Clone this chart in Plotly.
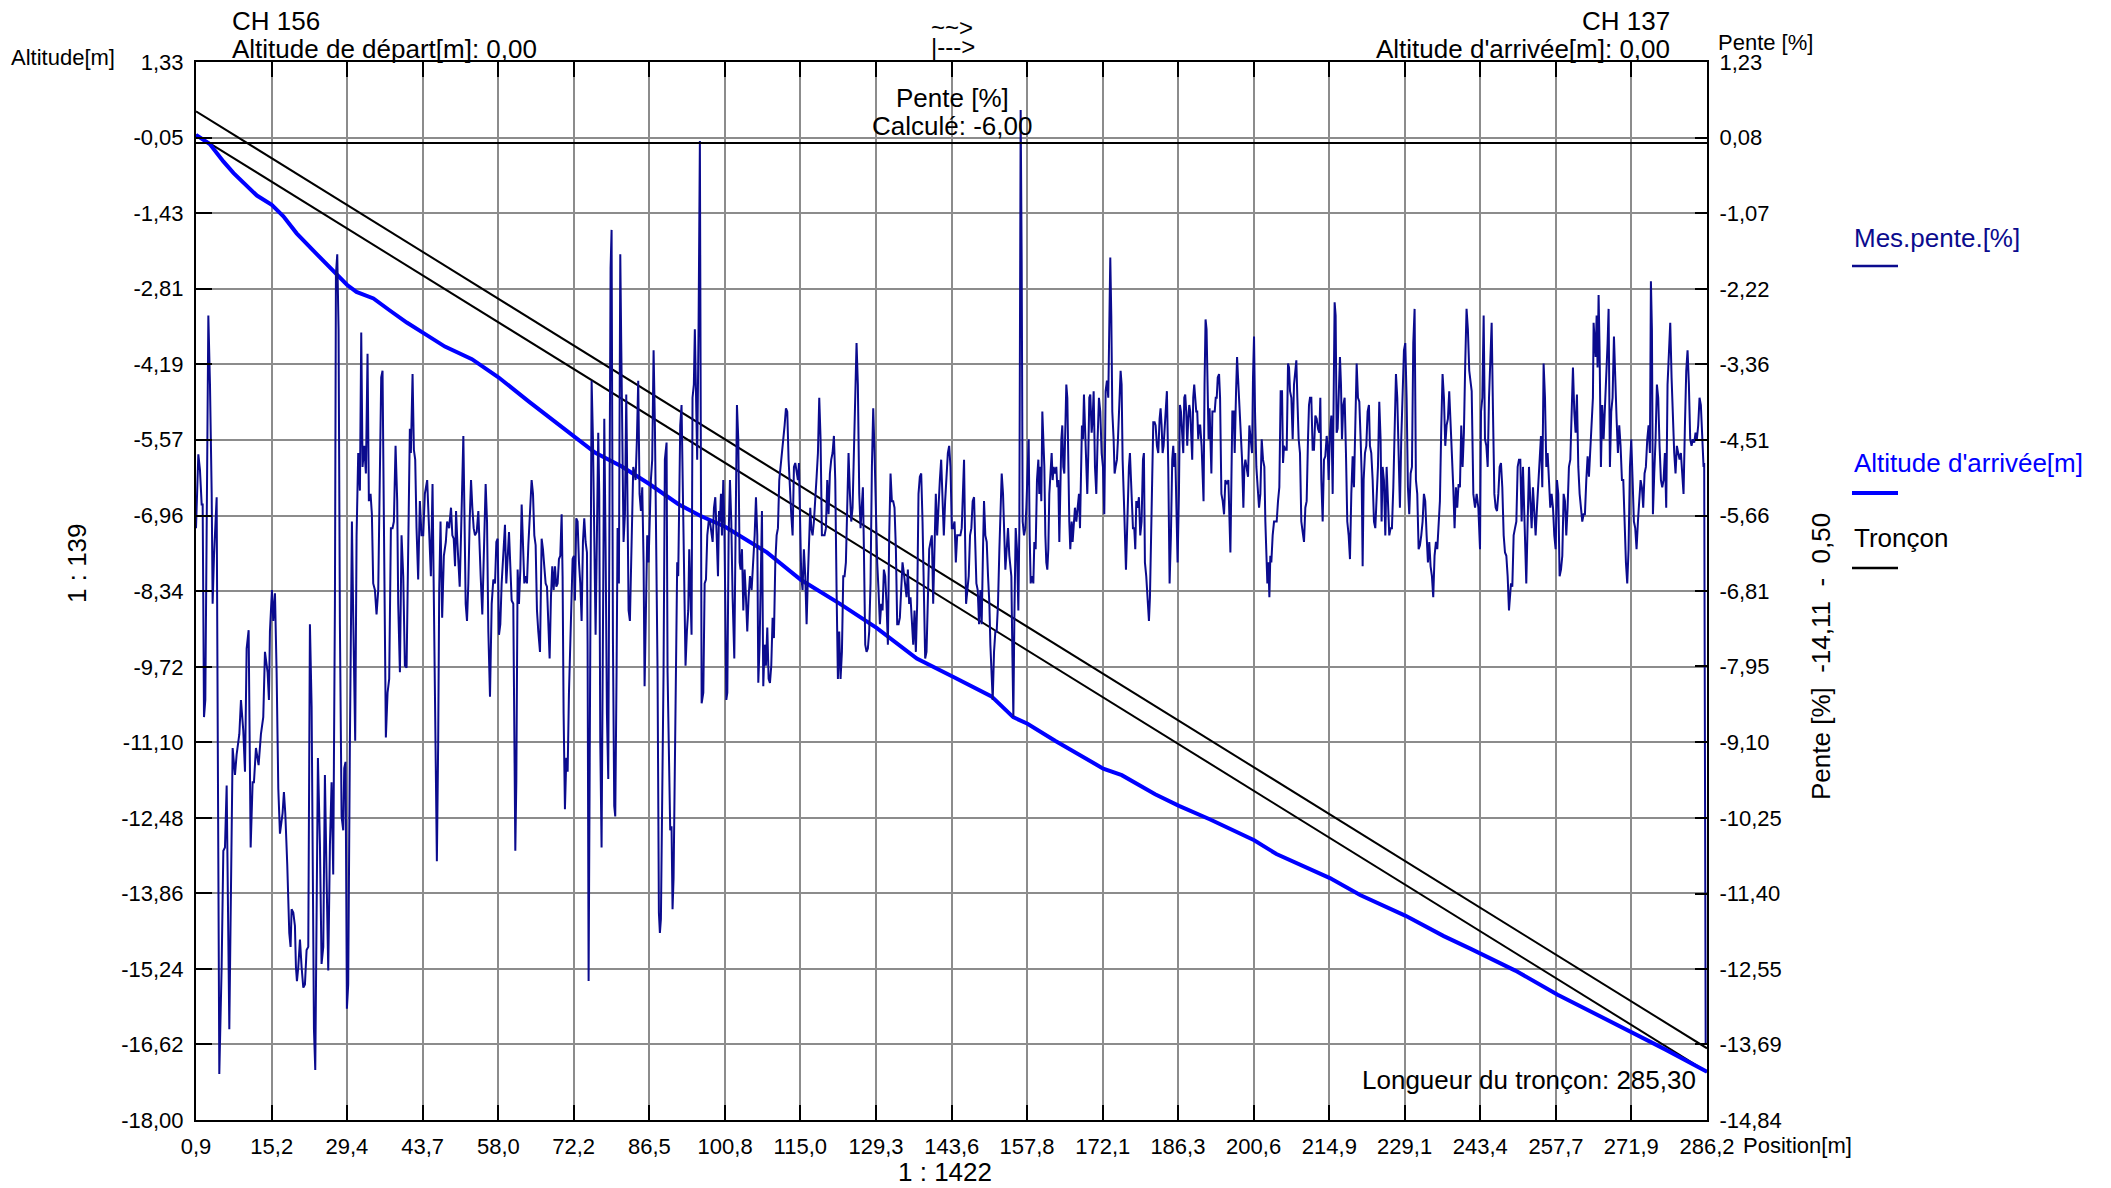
import plotly.graph_objects as go

# ---------------- axis ticks ----------------
x_tick_vals = [0.9, 15.2, 29.4, 43.7, 58.0, 72.2, 86.5, 100.8, 115.0, 129.3, 143.6,
               157.8, 172.1, 186.3, 200.6, 214.9, 229.1, 243.4, 257.7, 271.9, 286.2]
x_tick_text = ["0,9", "15,2", "29,4", "43,7", "58,0", "72,2", "86,5", "100,8", "115,0", "129,3", "143,6",
               "157,8", "172,1", "186,3", "200,6", "214,9", "229,1", "243,4", "257,7", "271,9", "286,2"]

alt_tick_vals = [1.33, -0.05, -1.43, -2.81, -4.19, -5.57, -6.96, -8.34, -9.72, -11.10,
                 -12.48, -13.86, -15.24, -16.62, -18.00]
alt_tick_text = ["1,33", "-0,05", "-1,43", "-2,81", "-4,19", "-5,57", "-6,96", "-8,34", "-9,72", "-11,10",
                 "-12,48", "-13,86", "-15,24", "-16,62", "-18,00"]

pente_tick_vals = [1.23, 0.08, -1.07, -2.22, -3.36, -4.51, -5.66, -6.81, -7.95, -9.10,
                   -10.25, -11.40, -12.55, -13.69, -14.84]
pente_tick_text = ["1,23", "0,08", "-1,07", "-2,22", "-3,36", "-4,51", "-5,66", "-6,81", "-7,95", "-9,10",
                   "-10,25", "-11,40", "-12,55", "-13,69", "-14,84"]

# ---------------- tronçon (two parallel lines) ----------------
troncon_pos = [0.9, 286.2]
troncon_lower = [0.0, -17.12]
troncon_upper = [0.43, -16.69]
zero_slope = 0.0

# ---------------- Altitude d'arrivée[m] ----------------
alt_pos = [0.9, 3.5, 6.1, 8.0, 12.4, 15.2, 17.4, 19.9, 23.7, 27.5, 29.4, 31.2, 34.4, 37.5, 40.7, 43.8,
           47.9, 53.0, 58.0, 63.7, 72.3, 76.3, 81.3, 86.5, 92.0, 96.1, 100.8, 108.7, 115.1, 122.5, 129.4,
           137.0, 144.2, 151.1, 155.2, 157.9, 163.1, 172.2, 175.7, 182.0, 186.5, 192.4, 200.7, 204.9,
           215.0, 220.7, 229.3, 236.5, 241.5, 250.0, 258.0, 265.7, 272.1, 278.3, 286.2]
alt_val = [0.0, -0.17, -0.49, -0.70, -1.11, -1.28, -1.49, -1.80, -2.18, -2.55, -2.74, -2.87, -2.99, -3.21,
           -3.43, -3.62, -3.87, -4.10, -4.43, -4.87, -5.50, -5.81, -6.06, -6.38, -6.75, -6.96, -7.16, -7.63,
           -8.13, -8.57, -9.01, -9.57, -9.92, -10.26, -10.64, -10.76, -11.07, -11.58, -11.70, -12.05,
           -12.26, -12.51, -12.89, -13.14, -13.58, -13.89, -14.27, -14.64, -14.87, -15.27, -15.71,
           -16.09, -16.40, -16.71, -17.12]

# ---------------- Mes.pente.[%] (position m, pente %) ----------------
pente_pts = [
    (0.90, -5.85), (1.34, -4.73), (1.65, -4.97), (1.97, -5.49), (2.16, -5.49), (2.41, -8.72), (2.66, -8.46),
    (2.91, -5.33), (3.23, -2.62), (3.54, -3.67), (3.86, -5.33), (4.04, -7.00), (4.30, -6.27), (4.80, -5.38),
    (5.30, -14.14), (5.74, -12.52), (6.06, -10.75), (6.37, -10.70), (6.69, -9.76), (7.19, -13.46),
    (7.82, -9.19), (8.26, -9.60), (8.57, -9.29), (9.08, -8.98), (9.39, -8.46), (9.83, -8.93), (10.15, -9.55),
    (10.46, -7.68), (10.84, -7.40), (11.22, -10.70), (11.59, -9.71), (11.84, -9.71), (12.22, -9.19),
    (12.72, -9.45), (13.16, -8.98), (13.60, -8.72), (13.92, -7.73), (14.42, -8.04), (14.67, -8.46),
    (14.86, -7.42), (15.24, -6.79), (15.49, -7.26), (15.81, -6.84), (16.12, -8.04), (16.44, -9.81),
    (16.75, -10.49), (17.25, -10.18), (17.50, -9.86), (17.76, -10.18), (18.13, -10.96), (18.51, -12.00),
    (18.76, -12.21), (18.95, -11.64), (19.27, -11.69), (19.58, -11.89), (19.77, -12.52), (19.96, -12.73),
    (20.21, -12.52), (20.53, -12.10), (20.84, -12.52), (21.16, -12.83), (21.47, -12.78), (21.78, -12.26),
    (22.10, -12.21), (22.41, -7.31), (22.73, -8.56), (23.17, -13.46), (23.42, -14.08), (23.67, -12.21),
    (23.92, -9.34), (24.30, -10.65), (24.61, -12.47), (24.93, -12.21), (25.24, -9.60), (25.56, -11.17),
    (25.87, -12.57), (26.19, -10.65), (26.50, -9.71), (26.81, -11.11), (27.13, -7.00), (27.32, -2.00),
    (27.57, -1.69), (27.82, -2.83), (28.07, -7.31), (28.39, -10.23), (28.70, -10.44), (28.89, -9.50),
    (29.14, -9.40), (29.39, -13.15), (29.64, -12.78), (29.96, -9.08), (30.34, -5.75), (30.59, -7.21),
    (30.96, -9.08), (31.22, -5.96), (31.53, -4.71), (31.85, -5.28), (32.10, -2.88), (32.35, -4.92),
    (32.66, -4.60), (32.98, -5.02), (33.29, -3.20), (33.54, -5.44), (33.86, -5.33), (34.11, -5.64),
    (34.36, -6.69), (34.68, -6.79), (34.99, -7.16), (35.31, -6.79), (35.62, -4.45), (35.87, -3.56),
    (36.12, -3.46), (36.44, -6.17), (36.75, -9.03), (37.07, -8.35), (37.38, -8.14), (37.70, -5.85),
    (38.01, -5.85), (38.26, -5.75), (38.58, -4.60), (38.89, -5.44), (39.08, -7.00), (39.40, -8.04),
    (39.71, -5.96), (40.03, -6.58), (40.34, -7.94), (40.66, -7.97), (40.97, -5.64), (41.28, -4.34),
    (41.47, -4.71), (41.79, -3.51), (42.04, -4.66), (42.29, -4.81), (42.54, -5.85), (42.85, -6.63),
    (43.17, -5.44), (43.48, -5.96), (43.80, -5.96), (44.11, -5.33), (44.55, -5.12), (44.93, -5.96),
    (45.25, -6.58), (45.56, -5.18), (45.88, -7.62), (46.19, -9.08), (46.38, -10.91), (46.63, -9.08),
    (46.82, -6.79), (47.07, -5.75), (47.38, -7.21), (47.70, -6.27), (48.07, -6.06), (48.32, -5.75),
    (48.70, -5.85),
    (48.80, -5.75), (49.05, -5.54), (49.30, -5.96), (49.56, -6.01), (49.81, -6.43), (50.00, -5.59),
    (50.25, -6.06), (50.50, -6.48), (50.69, -6.74), (50.94, -5.96), (51.19, -5.12), (51.38, -4.45),
    (51.57, -5.54), (51.82, -7.00), (52.07, -7.26), (52.32, -6.69), (52.57, -5.75), (52.83, -5.12),
    (53.08, -5.54), (53.33, -5.85), (53.58, -5.96), (53.90, -5.91), (54.21, -5.59), (54.40, -6.17),
    (54.65, -6.58), (54.96, -7.16), (55.34, -6.17), (55.59, -5.18), (55.85, -5.75), (56.10, -7.42),
    (56.41, -8.41), (56.73, -7.00), (57.04, -6.63), (57.36, -6.69), (57.61, -6.06), (57.86, -6.01),
    (58.11, -7.47), (58.36, -7.31), (58.61, -6.69), (58.93, -6.17), (59.24, -5.80), (59.49, -6.69),
    (59.75, -6.17), (60.00, -5.91), (60.25, -6.43), (60.50, -6.95), (60.81, -7.00), (61.00, -8.46),
    (61.19, -10.75), (61.38, -9.71), (61.63, -6.48), (61.88, -7.00), (62.14, -6.48), (62.39, -5.49),
    (62.64, -5.96), (62.89, -6.69), (63.14, -6.58), (63.39, -6.69), (63.65, -6.11), (63.96, -5.54),
    (64.27, -5.12), (64.53, -5.33), (64.78, -5.96), (65.03, -6.11), (65.28, -7.10), (65.53, -7.42),
    (65.85, -7.73), (66.16, -6.01), (66.41, -6.17), (66.66, -6.43), (66.92, -6.69), (67.17, -6.74),
    (67.42, -7.31), (67.67, -7.83), (67.92, -6.90), (68.17, -6.43), (68.43, -6.79), (68.68, -6.43),
    (68.93, -6.74), (69.18, -6.69), (69.43, -6.32), (69.68, -6.27), (69.94, -5.64), (70.12, -6.58),
    (70.31, -8.67), (70.56, -10.12), (70.82, -9.34), (71.07, -9.55), (71.32, -8.35), (71.57, -7.52),
    (71.82, -6.90), (72.01, -6.32), (72.26, -6.27), (72.45, -6.95), (72.70, -5.70), (72.95, -5.75),
    (73.21, -6.37), (73.46, -6.69), (73.71, -7.26), (73.96, -6.06), (74.21, -5.70), (74.46, -6.06),
    (74.72, -6.22), (74.84, -7.62), (75.03, -12.73), (75.22, -10.12), (75.41, -5.54), (75.60, -3.61),
    (75.85, -4.50), (76.10, -5.96), (76.35, -7.47), (76.60, -5.96), (76.85, -4.40), (77.04, -5.33),
    (77.23, -9.08), (77.48, -10.70), (77.73, -7.00), (77.99, -4.19), (78.24, -6.17), (78.49, -8.67),
    (78.74, -9.66), (78.99, -4.92), (79.18, -1.90), (79.37, -1.32), (79.62, -7.52), (79.87, -10.07),
    (80.06, -10.23), (80.31, -8.04), (80.50, -5.85), (80.75, -6.69), (81.01, -1.69), (81.19, -3.04),
    (81.38, -4.50), (81.63, -6.06), (81.89, -5.64), (82.14, -3.82), (82.33, -5.12), (82.58, -7.10),
    (82.83, -7.26), (83.14, -6.17), (83.46, -4.92), (83.71, -5.02), (83.90, -5.12), (84.15, -4.50),
    (84.40, -3.61), (84.65, -5.33), (84.91, -5.59), (85.16, -5.23), (85.41, -6.37), (85.60, -8.25),
    (85.85, -6.79), (86.10, -5.96), (86.35, -6.37), (86.54, -5.75), (86.79, -5.12), (87.04, -4.81),
    (87.30, -3.15), (87.55, -4.29), (87.80, -5.96), (88.05, -8.04), (88.30, -11.69), (88.49, -12.00),
    (88.68, -11.79), (88.93, -10.12), (89.18, -8.04), (89.43, -4.81), (89.75, -4.55), (89.94, -8.04),
    (90.19, -9.19), (90.44, -10.44), (90.69, -10.38), (90.88, -11.64), (91.07, -11.17), (91.32, -9.08),
    (91.51, -7.42), (91.76, -6.37), (91.95, -6.58), (92.14, -5.44), (92.33, -4.29), (92.58, -3.98),
    (92.83, -5.33), (93.08, -6.90), (93.33, -7.94), (93.59, -7.42), (93.84, -7.10), (94.03, -6.17),
    (94.21, -6.58), (94.47, -7.47), (94.65, -3.87), (94.90, -3.67), (95.09, -2.83), (95.28, -3.67),
    (95.53, -4.81), (95.79, -2.83), (96.04, 0.03),
    (96.37, -8.51), (96.69, -8.35), (96.94, -6.69), (97.19, -6.63), (97.44, -5.96), (97.70, -5.75),
    (97.95, -5.75), (98.20, -5.96), (98.45, -6.06), (98.70, -5.54), (98.95, -5.38), (99.21, -5.96),
    (99.46, -6.58), (99.65, -5.59), (99.83, -5.75), (100.02, -5.33), (100.21, -5.96), (100.46, -5.12),
    (100.65, -5.75), (100.84, -7.00), (101.03, -8.46), (101.22, -8.35), (101.47, -5.96), (101.72, -5.12),
    (101.97, -5.75), (102.22, -6.90), (102.54, -7.83), (102.79, -5.85), (103.04, -3.98), (103.29, -4.50),
    (103.55, -6.37), (103.73, -6.48), (103.99, -6.17), (104.24, -7.10), (104.49, -6.48), (104.74, -6.90),
    (104.99, -7.42), (105.24, -6.90), (105.50, -6.58), (105.81, -6.79), (106.12, -6.37), (106.38, -5.96),
    (106.63, -5.38), (106.88, -5.96), (107.07, -8.20), (107.32, -7.62), (107.57, -6.48), (107.76, -5.59),
    (108.01, -8.25), (108.26, -7.62), (108.51, -7.94), (108.77, -7.36), (109.02, -8.14), (109.27, -8.20),
    (109.52, -7.94), (109.77, -7.21), (110.02, -7.52), (110.28, -6.37), (110.53, -5.96), (110.78, -5.85),
    (111.03, -5.12), (111.28, -4.92), (111.53, -4.81), (111.79, -4.60), (112.04, -4.29), (112.29, -4.03),
    (112.54, -4.08), (112.79, -4.81), (113.04, -5.33), (113.29, -5.64), (113.55, -5.96), (113.80, -4.92),
    (114.05, -4.86), (114.30, -5.02), (114.55, -5.12), (114.74, -4.86), (114.93, -5.75), (115.18, -6.58),
    (115.43, -6.79), (115.68, -6.17), (115.94, -6.58), (116.19, -7.31), (116.44, -6.58), (116.69, -5.85),
    (116.88, -5.54), (117.07, -5.85), (117.32, -5.96), (117.57, -5.75), (117.82, -5.33), (118.08, -5.07),
    (118.33, -4.71), (118.58, -3.87), (118.83, -4.50), (119.08, -5.96), (119.33, -5.96), (119.58, -5.96),
    (119.84, -5.85), (120.09, -5.12), (120.34, -5.64), (120.59, -5.02), (120.84, -4.81), (121.09, -4.71),
    (121.35, -4.45), (121.60, -5.12), (121.85, -6.79), (122.10, -8.14), (122.35, -7.42), (122.60, -8.14),
    (122.86, -7.73), (123.11, -6.58), (123.36, -6.58), (123.61, -6.37), (123.86, -5.54), (124.11, -4.71),
    (124.37, -5.33), (124.62, -5.75), (124.87, -5.54), (125.12, -4.66), (125.37, -3.67), (125.62, -3.04),
    (125.87, -3.67), (126.13, -5.33), (126.38, -5.85), (126.63, -5.54), (126.82, -5.23), (127.01, -6.17),
    (127.26, -7.62), (127.51, -7.73), (127.76, -7.68), (128.01, -7.42), (128.26, -6.69), (128.52, -4.92),
    (128.77, -4.03), (129.02, -4.71), (129.27, -5.75), (129.52, -6.37), (129.77, -6.79), (130.03, -7.31),
    (130.28, -7.00), (130.53, -7.10), (130.78, -6.48), (131.03, -6.58), (131.28, -7.00), (131.54, -7.62),
    (131.79, -5.96), (132.04, -5.02), (132.29, -5.44), (132.54, -5.44), (132.79, -5.54), (133.05, -6.17),
    (133.30, -7.31), (133.55, -7.31), (133.80, -7.21), (134.05, -6.79), (134.30, -6.37), (134.55, -6.53),
    (134.81, -6.79), (135.06, -6.90), (135.31, -6.48), (135.56, -7.00), (135.81, -6.90), (136.06, -7.31),
    (136.32, -7.62), (136.57, -7.10), (136.82, -7.73), (137.07, -7.00), (137.32, -5.33), (137.57, -5.07),
    (137.83, -5.02), (138.08, -5.75), (138.33, -6.79), (138.58, -7.83), (138.83, -7.73), (139.08, -7.00),
    (139.34, -6.17), (139.59, -6.06), (139.84, -5.96), (140.09, -7.00), (140.34, -6.17), (140.59, -5.33),
    (140.84, -5.96), (141.10, -5.44), (141.35, -5.12), (141.60, -4.81), (141.85, -5.33), (142.10, -5.96),
    (142.35, -5.44), (142.61, -5.12), (142.86, -4.71), (143.11, -4.60), (143.36, -4.92), (143.61, -5.85),
    (143.86, -5.85), (144.12, -5.75), (144.37, -6.37), (144.62, -5.96), (144.87, -5.96),
    (145.23, -5.96), (145.48, -5.85), (145.73, -5.33), (145.92, -4.81), (146.11, -5.96), (146.30, -7.00),
    (146.55, -6.79), (146.80, -6.58), (147.05, -5.96), (147.30, -5.85), (147.55, -5.44), (147.81, -5.38),
    (147.99, -5.96), (148.25, -6.69), (148.50, -6.79), (148.75, -7.31), (149.00, -6.79), (149.25, -7.31),
    (149.50, -6.17), (149.69, -5.44), (149.94, -5.96), (150.20, -6.06), (150.45, -6.58), (150.70, -7.00),
    (150.89, -7.62), (151.14, -8.25), (151.33, -8.46), (151.58, -7.73), (151.83, -7.42), (152.08, -7.42),
    (152.33, -7.00), (152.59, -6.17), (152.84, -5.54), (153.03, -5.02), (153.28, -5.33), (153.47, -5.96),
    (153.72, -6.48), (153.97, -6.17), (154.22, -5.85), (154.47, -6.27), (154.66, -6.48), (154.85, -6.58),
    (155.04, -7.73), (155.23, -8.72), (155.42, -7.21), (155.67, -5.85), (155.92, -6.17), (156.17, -7.10),
    (156.36, -5.85), (156.49, -2.31), (156.61, 0.50), (156.80, -1.79), (156.99, -5.75), (157.24, -5.96),
    (157.49, -5.85), (157.68, -5.54), (157.93, -4.81), (158.12, -4.50), (158.31, -5.96), (158.50, -6.69),
    (158.75, -6.58), (159.00, -6.69), (159.19, -6.06), (159.44, -6.17), (159.69, -5.12), (159.95, -4.81),
    (160.13, -5.33), (160.32, -4.92), (160.51, -5.44), (160.70, -4.08), (160.89, -4.50), (161.08, -4.92),
    (161.27, -5.96), (161.45, -6.37), (161.64, -6.48), (161.83, -6.17), (162.02, -5.33), (162.21, -5.12),
    (162.46, -4.71), (162.65, -5.12), (162.84, -4.92), (163.09, -5.02), (163.34, -4.92), (163.53, -5.23),
    (163.72, -5.12), (163.91, -6.06), (164.10, -5.23), (164.29, -4.50), (164.47, -4.29), (164.66, -4.92),
    (164.85, -5.02), (165.04, -4.50), (165.23, -3.67), (165.42, -3.87), (165.61, -4.92), (165.79, -5.75),
    (165.98, -6.17), (166.24, -5.75), (166.42, -6.06), (166.68, -5.75), (166.86, -5.54), (167.12, -5.75),
    (167.37, -5.54), (167.62, -5.33), (167.81, -5.85), (168.00, -4.81), (168.18, -4.29), (168.37, -4.50),
    (168.56, -3.82), (168.75, -4.29), (168.94, -4.81), (169.19, -5.33), (169.38, -4.71), (169.57, -3.87),
    (169.76, -3.82), (170.01, -4.40), (170.20, -4.19), (170.39, -3.77), (170.64, -4.92), (170.89, -5.33),
    (171.14, -4.50), (171.39, -3.87), (171.64, -4.08), (171.90, -4.71), (172.15, -4.92), (172.40, -5.64),
    (172.65, -3.77), (172.90, -3.61), (173.15, -3.87), (173.34, -2.52), (173.53, -1.74), (173.72, -2.62),
    (173.91, -4.08), (174.16, -4.50), (174.35, -5.02), (174.54, -4.92), (174.79, -4.81), (174.98, -4.50),
    (175.23, -3.87), (175.48, -3.46), (175.67, -3.67), (175.86, -4.81), (176.11, -5.44), (176.30, -6.17),
    (176.49, -6.48), (176.68, -5.96), (176.87, -5.33), (177.05, -4.92), (177.24, -4.71), (177.43, -5.12),
    (177.62, -5.33), (177.81, -5.85), (178.06, -5.85), (178.25, -6.17), (178.44, -5.44), (178.69, -5.54),
    (178.94, -5.38), (179.19, -5.96), (179.44, -5.75), (179.70, -4.81), (179.88, -4.71), (180.07, -6.37),
    (180.32, -6.58), (180.58, -7.00), (180.83, -7.26), (181.02, -6.90), (181.21, -5.96), (181.46, -4.92),
    (181.65, -4.24), (181.90, -4.24), (182.09, -4.29), (182.34, -4.60), (182.59, -4.71), (182.84, -4.19),
    (183.03, -4.03), (183.22, -4.29), (183.41, -4.71), (183.60, -4.60), (183.85, -4.19), (184.04, -3.98),
    (184.22, -3.77), (184.48, -4.92), (184.73, -6.69), (184.98, -5.96), (185.23, -4.81), (185.42, -4.60),
    (185.61, -4.92), (185.80, -4.71), (185.99, -5.44), (186.24, -6.37), (186.49, -5.33), (186.68, -3.98),
    (186.87, -4.08), (187.12, -4.50), (187.31, -4.71), (187.50, -3.87), (187.68, -3.82), (187.87, -4.08),
    (188.06, -4.60), (188.25, -4.19), (188.44, -3.98), (188.63, -4.08), (188.82, -4.50), (189.00, -4.81),
    (189.19, -3.87), (189.38, -3.67), (189.57, -3.87), (189.76, -4.08), (189.95, -4.08), (190.14, -4.50),
    (190.33, -4.29), (190.51, -4.29), (190.77, -4.60), (190.95, -5.02), (191.14, -5.44), (191.33, -3.67),
    (191.52, -2.68), (191.71, -2.83), (191.90, -4.08), (192.09, -4.50), (192.28, -4.03),
    (192.62, -5.02), (192.81, -4.08), (193.25, -4.08), (193.44, -3.87), (193.63, -3.87), (193.82, -3.56),
    (194.07, -3.51), (194.26, -3.87), (194.51, -5.33), (194.76, -5.44), (195.01, -5.64), (195.26, -5.12),
    (195.52, -5.18), (195.83, -5.12), (196.02, -5.96), (196.21, -6.22), (196.40, -5.12), (196.58, -4.08),
    (196.84, -4.08), (197.02, -4.71), (197.28, -3.77), (197.47, -3.25), (197.65, -3.56), (197.91, -3.98),
    (198.16, -4.29), (198.41, -4.81), (198.66, -5.54), (198.85, -4.92), (199.04, -4.81), (199.29, -4.92),
    (199.54, -5.07), (199.79, -4.29), (200.04, -4.50), (200.30, -4.71), (200.48, -3.56), (200.67, -2.94),
    (200.86, -4.08), (201.11, -4.92), (201.36, -5.23), (201.62, -5.54), (201.87, -5.33), (202.12, -4.50),
    (202.37, -4.81), (202.62, -4.92), (202.81, -5.75), (203.00, -6.37), (203.19, -6.69), (203.38, -6.37),
    (203.57, -6.90), (203.75, -6.27), (203.94, -6.37), (204.19, -5.96), (204.45, -5.75), (204.70, -5.75),
    (204.95, -5.75), (205.20, -5.44), (205.45, -5.23), (205.70, -3.77), (205.96, -3.77), (206.15, -4.86),
    (206.33, -4.60), (206.59, -4.66), (206.84, -4.66), (207.09, -3.35), (207.28, -3.41), (207.47, -3.77),
    (207.72, -3.87), (207.97, -4.50), (208.22, -3.67), (208.47, -3.46), (208.66, -3.30), (208.85, -3.87),
    (209.10, -4.50), (209.35, -4.71), (209.60, -5.75), (209.86, -5.91), (210.11, -6.06), (210.36, -5.54),
    (210.61, -5.44), (210.86, -4.50), (211.05, -3.98), (211.24, -3.87), (211.49, -3.87), (211.74, -4.66),
    (211.99, -4.66), (212.25, -4.14), (212.50, -4.19), (212.75, -4.34), (213.00, -4.40), (213.19, -3.87),
    (213.38, -5.12), (213.63, -5.75), (213.88, -4.81), (214.13, -4.76), (214.39, -4.45), (214.57, -4.60),
    (214.76, -5.12), (215.01, -4.40), (215.27, -4.14), (215.52, -5.33), (215.71, -3.87), (215.89, -2.42),
    (216.08, -2.62), (216.27, -4.40), (216.46, -4.34), (216.65, -3.87), (216.90, -3.25), (217.09, -3.67),
    (217.28, -4.50), (217.53, -3.98), (217.78, -3.87), (218.03, -4.71), (218.28, -5.75), (218.54, -5.96),
    (218.79, -6.32), (219.04, -5.33), (219.29, -4.76), (219.54, -5.23), (219.79, -4.08), (220.05, -3.35),
    (220.30, -3.87), (220.55, -3.93), (220.80, -4.50), (220.99, -5.02), (221.18, -6.43), (221.37, -5.12),
    (221.62, -4.71), (221.87, -4.60), (222.12, -4.08), (222.37, -3.98), (222.56, -4.60), (222.81, -4.71),
    (223.07, -5.12), (223.32, -5.75), (223.57, -5.85), (223.82, -5.44), (224.07, -4.92), (224.32, -3.93),
    (224.57, -4.50), (224.76, -5.75), (224.95, -4.92), (225.20, -5.12), (225.46, -5.96), (225.71, -4.92),
    (225.96, -5.54), (226.21, -5.96), (226.46, -5.85), (226.71, -5.85), (226.97, -5.23), (227.22, -4.50),
    (227.47, -3.51), (227.72, -3.87), (227.97, -4.92), (228.22, -5.54), (228.47, -4.50), (228.73, -3.77),
    (228.98, -3.15), (229.23, -3.04), (229.48, -3.87), (229.73, -5.23), (229.98, -5.64), (230.24, -5.02),
    (230.49, -4.92), (230.74, -3.04), (230.99, -2.52), (231.24, -5.12), (231.49, -5.33), (231.75, -6.17),
    (232.00, -6.11), (232.25, -5.96), (232.50, -5.75), (232.75, -5.33), (233.00, -5.44), (233.26, -5.96),
    (233.51, -6.37), (233.76, -6.06), (234.01, -6.43), (234.26, -6.58), (234.51, -6.90), (234.76, -6.27),
    (235.02, -6.06), (235.27, -6.17), (235.52, -5.85), (235.77, -5.44), (236.02, -4.34), (236.27, -3.51),
    (236.53, -3.87), (236.78, -4.60), (237.03, -4.29), (237.28, -4.19), (237.53, -3.77), (237.78, -4.19),
    (238.04, -4.71), (238.29, -5.23), (238.54, -5.85), (238.79, -5.23), (239.04, -5.54), (239.29, -5.18),
    (239.55, -5.23), (239.80, -4.29), (240.05, -4.92), (240.30, -4.40), (240.55, -3.35), (240.80, -2.52),
    (241.05, -2.83), (241.31, -3.46),
    (241.77, -3.77), (242.08, -5.33), (242.40, -5.54), (242.71, -5.33), (243.03, -5.54), (243.34, -6.17),
    (243.53, -4.08), (243.78, -3.87), (244.03, -2.62), (244.28, -4.50), (244.54, -4.60), (244.79, -4.92),
    (245.04, -3.87), (245.29, -3.25), (245.54, -2.73), (245.79, -4.08), (246.05, -5.33), (246.30, -5.54),
    (246.55, -5.59), (246.80, -5.33), (247.05, -4.92), (247.30, -4.86), (247.55, -5.23), (247.81, -5.96),
    (248.06, -6.22), (248.31, -6.27), (248.56, -6.58), (248.81, -7.10), (249.00, -6.90), (249.19, -6.69),
    (249.44, -6.74), (249.69, -5.96), (249.95, -5.85), (250.20, -5.75), (250.45, -4.92), (250.70, -4.81),
    (250.95, -4.81), (251.20, -5.75), (251.45, -4.92), (251.64, -5.54), (251.83, -6.06), (252.08, -6.69),
    (252.34, -5.75), (252.59, -4.92), (252.84, -5.44), (253.09, -5.85), (253.34, -5.23), (253.59, -5.54),
    (253.84, -5.96), (254.10, -5.54), (254.35, -5.12), (254.60, -4.81), (254.85, -4.45), (255.10, -5.23),
    (255.35, -3.35), (255.61, -3.87), (255.86, -4.92), (256.11, -4.71), (256.36, -5.12), (256.61, -5.54),
    (256.86, -5.33), (257.12, -5.54), (257.37, -5.96), (257.62, -6.17), (257.87, -5.12), (258.12, -5.33),
    (258.37, -6.58), (258.63, -6.48), (258.88, -6.27), (259.13, -5.33), (259.38, -5.44), (259.63, -5.96),
    (259.88, -5.54), (260.13, -4.92), (260.39, -4.81), (260.64, -4.08), (260.89, -3.41), (261.14, -4.08),
    (261.39, -4.40), (261.64, -3.82), (261.90, -4.92), (262.15, -5.33), (262.40, -5.54), (262.65, -5.75),
    (262.90, -5.64), (263.15, -5.64), (263.41, -5.12), (263.66, -4.76), (263.91, -5.07), (264.16, -4.71),
    (264.41, -4.40), (264.66, -3.87), (264.79, -2.73), (264.98, -2.94), (265.17, -3.25), (265.36, -2.62),
    (265.54, -3.41), (265.73, -2.31), (265.92, -3.15), (266.17, -4.92), (266.42, -3.98), (266.68, -4.50),
    (266.93, -4.08), (267.18, -3.67), (267.43, -3.04), (267.62, -2.52), (267.87, -4.92), (268.12, -4.08),
    (268.37, -3.87), (268.63, -2.94), (268.88, -3.67), (269.13, -4.19), (269.38, -4.71), (269.63, -4.29),
    (269.88, -4.60), (270.14, -5.12), (270.39, -5.12), (270.64, -5.96), (270.89, -6.37), (271.14, -6.69),
    (271.39, -6.17), (271.65, -4.92), (271.90, -4.50), (272.15, -5.12), (272.40, -5.75), (272.65, -5.85),
    (272.90, -6.17), (273.16, -5.75), (273.41, -5.33), (273.66, -5.12), (273.91, -5.23), (274.16, -5.54),
    (274.41, -5.02), (274.66, -4.92), (274.92, -4.50), (275.17, -4.29), (275.42, -4.71), (275.61, -2.10),
    (275.80, -2.83), (275.99, -5.64), (276.24, -5.02), (276.49, -4.50), (276.74, -3.67), (276.99, -3.87),
    (277.24, -4.60), (277.50, -5.12), (277.75, -5.23), (278.00, -5.12), (278.25, -4.71), (278.50, -5.54),
    (278.75, -3.67), (279.00, -3.25), (279.26, -2.73), (279.51, -3.56), (279.76, -4.19), (280.01, -4.71),
    (280.26, -5.02), (280.51, -4.60), (280.77, -4.71), (281.02, -4.81), (281.27, -4.71), (281.52, -5.12),
    (281.77, -5.33), (282.02, -4.34), (282.28, -3.46), (282.53, -3.15), (282.78, -3.67), (283.03, -4.50),
    (283.28, -4.60), (283.53, -4.50), (283.79, -4.55), (284.04, -4.40), (284.29, -4.50), (284.54, -4.29),
    (284.79, -3.87), (285.04, -3.98), (285.29, -4.50), (285.55, -4.92), (285.67, -4.86), (285.95, -13.69),
]
pente_pos = [p for p, _ in pente_pts]
pente_val = [v for _, v in pente_pts]

# ---------------- styling / geometry ----------------
FONT = "Liberation Sans, Arial, sans-serif"
OFF = 8                       # page body margin of the html
W, H = 2111 - OFF, 1188 - OFF
PL, PR, PT, PB = 196 - OFF, 1707 - OFF, 62 - OFF, 1120 - OFF   # plot area in figure px
NAVY = "#0b0b8e"
BLUE = "#0000ff"
GRID = "#8c8c8c"


def fx(px):
    return (px - OFF - PL) / (PR - PL)


def fy(py):
    return (PB - (py - OFF)) / (PB - PT)


fig = go.Figure()

fig.add_trace(go.Scatter(x=troncon_pos, y=troncon_upper, mode="lines",
                         line=dict(color="black", width=2), showlegend=False, hoverinfo="skip"))
fig.add_trace(go.Scatter(x=troncon_pos, y=troncon_lower, mode="lines",
                         line=dict(color="black", width=2), showlegend=False, hoverinfo="skip"))
fig.add_trace(go.Scatter(x=alt_pos, y=alt_val, mode="lines", name="Altitude d'arrivée[m]",
                         line=dict(color=BLUE, width=4), showlegend=False))
fig.add_trace(go.Scatter(x=pente_pos, y=pente_val, mode="lines", name="Mes.pente.[%]", yaxis="y2",
                         line=dict(color=NAVY, width=2), showlegend=False))

fig.add_shape(type="line", xref="paper", x0=0, x1=1, yref="y2", y0=zero_slope, y1=zero_slope,
              line=dict(color="black", width=2))

ann = []


def txt(text, px, py, size=26, xanchor="left", color="black", angle=0):
    ann.append(dict(text=text, x=fx(px), y=fy(py), xref="paper", yref="paper", showarrow=False,
                    xanchor=xanchor, yanchor="middle", textangle=angle,
                    font=dict(family=FONT, size=size, color=color)))


txt("Altitude[m]", 9, 57, size=22)
txt("CH 156", 230, 21)
txt("Altitude de départ[m]: 0,00", 230, 49)
txt("~~>", 929, 27, size=24)
txt("|--->", 929, 47, size=24)
txt("CH 137", 1672, 21, xanchor="right")
txt("Altitude d'arrivée[m]: 0,00", 1672, 49, xanchor="right")
txt("Pente [%]", 1716, 42, size=22)
txt("Pente [%]", 952, 98, xanchor="center")
txt("Calculé: -6,00", 952, 126, xanchor="center")
txt("Longueur du tronçon: 285,30", 1698, 1080, xanchor="right")
txt("Position[m]", 1741, 1145, size=22)
txt("1 : 1422", 945, 1172, xanchor="center")
txt("1 : 139", 77, 563, xanchor="center", angle=-90)
txt("Pente [%]  -14,11  -  0,50", 1821, 657, xanchor="center", angle=-90)
txt("Mes.pente.[%]", 1852, 238, color=NAVY)
txt("Altitude d'arrivée[m]", 1852, 463, color=BLUE)
txt("Tronçon", 1852, 538)

for py, col, wd in [(266, NAVY, 2.5), (493, BLUE, 4), (568, "black", 2.5)]:
    fig.add_shape(type="line", xref="paper", yref="paper", x0=fx(1852), x1=fx(1898),
                  y0=fy(py), y1=fy(py), line=dict(color=col, width=wd))

tickfont = dict(family=FONT, size=22, color="black")

fig.update_layout(
    width=W, height=H,
    margin=dict(l=PL, r=W - PR, t=PT, b=H - PB, pad=0),
    paper_bgcolor="white", plot_bgcolor="white",
    showlegend=False,
    annotations=ann,
    xaxis=dict(range=[0.9, 286.2], tickmode="array", tickvals=x_tick_vals, ticktext=x_tick_text,
               showgrid=True, gridcolor=GRID, gridwidth=1.5, zeroline=False,
               ticks="inside", ticklen=15, tickwidth=2, tickcolor="black",
               showline=True, linecolor="black", linewidth=2, mirror="ticks",
               tickfont=tickfont, ticklabelstandoff=6),
    yaxis=dict(range=[-18.0, 1.33], tickmode="array", tickvals=alt_tick_vals, ticktext=alt_tick_text,
               showgrid=True, gridcolor=GRID, gridwidth=1.5, zeroline=False,
               ticks="inside", ticklen=16, tickwidth=2, tickcolor="black",
               showline=True, linecolor="black", linewidth=2, mirror=True,
               tickfont=tickfont, ticklabelstandoff=6),
    yaxis2=dict(range=[-14.84, 1.23], overlaying="y", side="right", tickmode="array",
                tickvals=pente_tick_vals, ticktext=pente_tick_text,
                showgrid=False, zeroline=False,
                ticks="inside", ticklen=12, tickwidth=2, tickcolor="black",
                showline=True, linecolor="black", linewidth=2,
                tickfont=tickfont, ticklabelstandoff=6),
)

fig.write_html("out.html")
